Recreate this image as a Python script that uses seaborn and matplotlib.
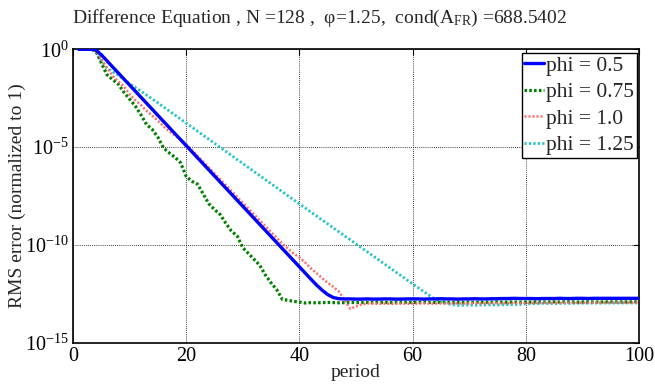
import numpy as np
import pandas as pd
import matplotlib
matplotlib.use("Agg")
import matplotlib.pyplot as plt
import seaborn as sns
from matplotlib.ticker import FixedLocator, FixedFormatter

# ---------------- data (log10 of RMS error, periods 1..100) ----------------
period = list(range(1, 101))

log_phi_050 = [0, 0, 0, -0.02, -0.28, -0.59, -0.90, -1.21, -1.52, -1.83,
               -2.14, -2.45, -2.76, -3.07, -3.38, -3.69, -4.00, -4.31, -4.62, -4.93,
               -5.24, -5.55, -5.86, -6.17, -6.48, -6.79, -7.10, -7.41, -7.72, -8.03,
               -8.34, -8.65, -8.96, -9.27, -9.58, -9.89, -10.20, -10.51, -10.82, -11.13,
               -11.44, -11.75, -12.05, -12.32, -12.55, -12.70, -12.76, -12.77, -12.77, -12.78,
               -12.78, -12.77, -12.78, -12.78, -12.77, -12.77, -12.78, -12.78, -12.77, -12.77,
               -12.77, -12.78, -12.77, -12.77, -12.76, -12.77, -12.77, -12.78, -12.77, -12.77,
               -12.76, -12.77, -12.77, -12.76, -12.76, -12.75, -12.75, -12.74, -12.75, -12.75,
               -12.75, -12.76, -12.75, -12.75, -12.75, -12.74, -12.75, -12.75, -12.74, -12.74,
               -12.75, -12.74, -12.74, -12.74, -12.74, -12.74, -12.74, -12.74, -12.74, -12.74]

log_phi_075 = [0, 0, 0, -0.05, -0.70, -1.30, -1.55, -1.78, -2.20, -2.55,
               -2.90, -3.35, -3.85, -4.10, -4.50, -5.05, -5.30, -5.52, -5.80, -6.50,
               -6.75, -6.90, -7.40, -7.90, -8.20, -8.45, -8.90, -9.30, -9.55, -10.15,
               -10.45, -10.75, -11.05, -11.55, -11.95, -12.30, -12.80, -12.84, -12.90, -12.93,
               -12.98, -12.96, -12.97, -12.96, -12.95, -12.96, -12.97, -12.96, -12.95, -12.96,
               -12.96, -12.95, -12.96, -12.95, -12.95, -12.96, -12.95, -12.95, -12.94, -12.95,
               -12.95, -12.94, -12.95, -12.95, -12.94, -12.94, -12.95, -12.94, -12.94, -12.94,
               -12.94, -12.93, -12.94, -12.94, -12.93, -12.94, -12.93, -12.93, -12.94, -12.93,
               -12.93, -12.92, -12.93, -12.93, -12.92, -12.93, -12.92, -12.92, -12.93, -12.92,
               -12.92, -12.92, -12.93, -12.92, -12.92, -12.92, -12.92, -12.92, -12.92, -12.92]

log_phi_100 = [0, 0, 0, -0.05, -0.50, -0.95, -1.35, -1.65, -1.90, -2.30,
               -2.60, -2.85, -3.15, -3.40, -3.65, -3.95, -4.20, -4.40, -4.60, -4.85,
               -5.15, -5.45, -5.75, -6.05, -6.35, -6.65, -6.95, -7.25, -7.55, -7.85,
               -8.15, -8.45, -8.75, -9.05, -9.35, -9.65, -9.95, -10.20, -10.45, -10.65,
               -10.90, -11.20, -11.45, -11.70, -11.95, -12.15, -12.40, -12.85, -13.28, -13.15,
               -13.05, -13.00, -13.01, -13.02, -13.01, -13.02, -13.02, -13.01, -13.02, -13.01,
               -13.01, -13.00, -13.01, -13.01, -13.00, -13.01, -13.00, -13.00, -13.01, -13.00,
               -12.99, -13.00, -13.00, -12.99, -12.99, -13.00, -12.99, -12.98, -12.99, -12.98,
               -12.98, -12.98, -12.97, -12.98, -12.97, -12.97, -12.98, -12.97, -12.97, -12.96,
               -12.97, -12.96, -12.96, -12.96, -12.96, -12.96, -12.96, -12.96, -12.96, -12.96]

log_phi_125 = [0, 0, 0, -0.10, -0.60, -0.95, -1.15, -1.32, -1.55, -1.77,
               -1.95, -2.14, -2.34, -2.54, -2.74, -2.95, -3.15, -3.36, -3.57, -3.78,
               -3.98, -4.19, -4.40, -4.60, -4.81, -5.02, -5.22, -5.43, -5.64, -5.84,
               -6.05, -6.26, -6.46, -6.67, -6.88, -7.08, -7.29, -7.50, -7.70, -7.91,
               -8.11, -8.32, -8.52, -8.73, -8.93, -9.14, -9.34, -9.55, -9.75, -9.96,
               -10.16, -10.36, -10.57, -10.77, -10.98, -11.18, -11.39, -11.59, -11.80, -12.00,
               -12.20, -12.40, -12.60, -12.80, -12.92, -13.00, -13.06, -13.10, -13.09, -13.08,
               -13.09, -13.08, -13.08, -13.07, -13.08, -13.07, -13.06, -13.06, -13.05, -13.02,
               -13.01, -13.01, -13.00, -13.00, -13.01, -13.00, -12.99, -13.00, -12.99, -12.99,
               -12.99, -12.98, -12.99, -12.98, -12.98, -12.98, -12.98, -12.98, -12.98, -12.98]

series_labels = ["phi = 0.5", "phi = 0.75", "phi = 1.0", "phi = 1.25"]
x_ticks = [0, 20, 40, 60, 80, 100]
y_ticks = [1e-15, 1e-10, 1e-5, 1e0]
y_tick_labels = [r"$\mathregular{10^{-15}}$", r"$\mathregular{10^{-10}}$",
                 r"$\mathregular{10^{-5}}$", r"$\mathregular{10^{0}}$"]
title = r"Difference Equation , N =128 ,  φ=1.25,  cond(A$\mathregular{_{FR}}$) =688.5402"

# ---------------- style ----------------
sns.set_theme(style="white")
plt.rcParams["font.family"] = ["Liberation Serif", "DejaVu Serif"]
plt.rcParams["mathtext.fontset"] = "custom"
plt.rcParams["mathtext.rm"] = "Liberation Serif"
plt.rcParams["mathtext.it"] = "Liberation Serif:italic"
plt.rcParams["mathtext.bf"] = "Liberation Serif:bold"

fig = plt.figure(figsize=(6.55, 3.88), dpi=100)
ax = fig.add_axes([73 / 655, 1 - 342.5 / 388, (639 - 73) / 655, (342.5 - 49.3) / 388])

styles = [
    dict(color="#0000ff", lw=2.4, ls="-", zorder=5),
    dict(color="#008000", lw=2.3, ls=(0, (0.8, 0.7)), zorder=3),
    dict(color="#ff6a6a", lw=1.8, ls=(0, (0.8, 0.8)), zorder=4),
    dict(color="#22c4c4", lw=2.0, ls=(0, (0.8, 0.8)), zorder=2),
]
all_logs = [log_phi_050, log_phi_075, log_phi_100, log_phi_125]

for lab, lg, st in zip(series_labels, all_logs, styles):
    df = pd.DataFrame({"period": period, "err": np.power(10.0, np.array(lg))})
    sns.lineplot(data=df, x="period", y="err", ax=ax, label=lab,
                 color=st["color"], linewidth=st["lw"], linestyle=st["ls"],
                 zorder=st["zorder"])

ax.set_yscale("log")
ax.set_xlim(0, 100)
ax.set_ylim(1e-15, 1e0)
ax.xaxis.set_major_locator(FixedLocator(x_ticks))
ax.yaxis.set_major_locator(FixedLocator(y_ticks))
ax.yaxis.set_major_formatter(FixedFormatter(y_tick_labels))
ax.yaxis.set_minor_locator(FixedLocator([]))
ax.tick_params(axis="both", which="major", direction="in", length=4, width=0.8,
               labelsize=14.5, top=True, right=True, colors="black", pad=3)
ax.grid(True, which="major", color="black", linestyle=(0, (1, 1.5)), linewidth=0.6)
for sp in ax.spines.values():
    sp.set_color("black")
    sp.set_linewidth(1.2)

ax.set_xlabel("period", fontsize=14, labelpad=-1)
ax.set_ylabel("RMS error (normalized to 1)", fontsize=14, labelpad=-1)
ax.set_title(title, fontsize=14, pad=19, x=(320 - 73) / 566)

leg = ax.legend(loc="upper right", bbox_to_anchor=((636.7 - 73) / 566, (342.5 - 53) / 293.2),
                fontsize=15.5, frameon=True, fancybox=False,
                framealpha=1, edgecolor="black", handlelength=0.9, handletextpad=0.12,
                borderpad=0.12, labelspacing=0.3, borderaxespad=0.0)
leg.get_frame().set_linewidth(1.0)

fig.savefig("out.png", dpi=100)
